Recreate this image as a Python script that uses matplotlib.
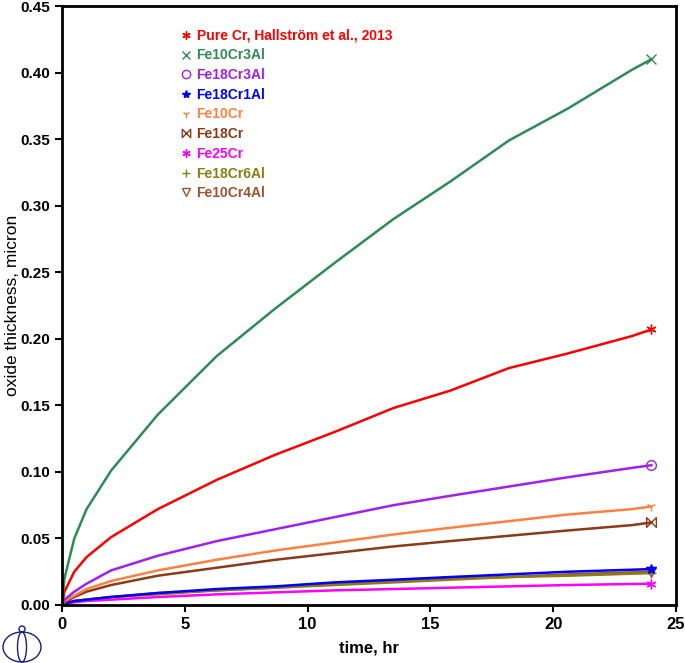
import matplotlib.pyplot as plt
from matplotlib.lines import Line2D
from matplotlib.patches import Ellipse
from matplotlib.path import Path

plt.rcParams['font.family'] = ['Liberation Sans', 'DejaVu Sans']

# time points, hr
time = [0, 0.1, 0.5, 1, 2, 3.9, 6.3, 8.7, 11.1, 13.5, 15.8, 18.2, 20.6, 23.2, 24]

pure_cr = [0, 0.010, 0.025, 0.036, 0.051, 0.072, 0.094, 0.113, 0.130, 0.148, 0.161, 0.178, 0.189, 0.202, 0.207]
fe10cr3al = [0, 0.020, 0.050, 0.072, 0.101, 0.143, 0.187, 0.223, 0.257, 0.290, 0.318, 0.349, 0.373, 0.402, 0.410]
fe18cr3al = [0, 0.004, 0.010, 0.016, 0.026, 0.037, 0.048, 0.057, 0.066, 0.075, 0.082, 0.089, 0.096, 0.103, 0.105]
fe18cr1al = [0, 0.001, 0.003, 0.004, 0.006, 0.009, 0.012, 0.014, 0.017, 0.019, 0.021, 0.023, 0.025, 0.0265, 0.027]
fe10cr = [0, 0.003, 0.007, 0.012, 0.018, 0.026, 0.034, 0.041, 0.047, 0.053, 0.058, 0.063, 0.068, 0.072, 0.074]
fe18cr = [0, 0.002, 0.006, 0.010, 0.015, 0.022, 0.028, 0.034, 0.039, 0.044, 0.048, 0.052, 0.056, 0.060, 0.062]
fe25cr = [0, 0.001, 0.002, 0.003, 0.004, 0.006, 0.008, 0.0095, 0.011, 0.012, 0.013, 0.014, 0.015, 0.0158, 0.016]
fe18cr6al = [0, 0.001, 0.003, 0.004, 0.006, 0.008, 0.011, 0.013, 0.015, 0.017, 0.019, 0.021, 0.022, 0.0235, 0.024]
fe10cr4al = [0, 0.001, 0.003, 0.004, 0.006, 0.009, 0.011, 0.013, 0.016, 0.018, 0.020, 0.021, 0.023, 0.0245, 0.025]

labels = ['Pure Cr, Hallstr\u00f6m et al., 2013', 'Fe10Cr3Al', 'Fe18Cr3Al', 'Fe18Cr1Al',
          'Fe10Cr', 'Fe18Cr', 'Fe25Cr', 'Fe18Cr6Al', 'Fe10Cr4Al']
series = [pure_cr, fe10cr3al, fe18cr3al, fe18cr1al, fe10cr, fe18cr, fe25cr, fe18cr6al, fe10cr4al]
colors = ['#ff0000', '#2e8b57', '#a020f0', '#0000ff', '#ff8040', '#8b3a1a', '#ff00ff', '#8b7d10', '#a0522d']

# open bowtie marker with vertical sides
bowtie = Path([(-1, 1), (-1, -1), (1, 1), (1, -1), (-1, 1)],
              [Path.MOVETO, Path.LINETO, Path.LINETO, Path.LINETO, Path.CLOSEPOLY])
markers = [(6, 2, 0), 'x', 'o', '*', '1', bowtie, (6, 2, 0), '+', 'v']
fills = ['none', 'none', 'none', '#0000ff', 'none', 'none', 'none', 'none', 'none']

fig = plt.figure(figsize=(6.85, 6.63), dpi=100)
ax = fig.add_axes([62 / 685, 58 / 663, 614 / 685, 599 / 663])

# draw lower curves first so the upper ones sit on top
order = [6, 8, 7, 3, 5, 4, 2, 0, 1]
for i in order:
    ax.plot(time, series[i], color=colors[i], lw=1.8, marker=markers[i],
            markevery=[len(time) - 1], ms=7, mfc=fills[i], mec=colors[i], mew=1.0)

ax.set_xlim(0, 25)
ax.set_ylim(0, 0.45)
ax.set_xticks([0, 5, 10, 15, 20, 25])
ax.set_yticks([i * 0.05 for i in range(10)])
ax.set_yticklabels(['%.2f' % (i * 0.05) for i in range(10)])
ax.tick_params(direction='out', length=5, width=1.5)
for lab in ax.get_xticklabels():
    lab.set_fontsize(12)
    lab.set_fontweight('bold')
for lab in ax.get_yticklabels():
    lab.set_fontsize(11)
    lab.set_fontweight('bold')
for sp in ax.spines.values():
    sp.set_linewidth(2)

ax.set_xlabel('time, hr', fontsize=12, fontweight='bold', labelpad=6)
ax.set_ylabel('oxide thickness, micron', fontsize=12.5, labelpad=0)

handles = [Line2D([], [], ls='none', marker=markers[i], color=colors[i], mfc=fills[i],
                  mec=colors[i], ms=6, mew=1.0) for i in range(len(labels))]
leg = ax.legend(handles, labels, loc='upper left', bbox_to_anchor=(0.175, 0.983), frameon=False,
                handlelength=0.6, handletextpad=0.45, labelspacing=0.41,
                prop={'weight': 'bold', 'size': 10})
for txt, c in zip(leg.get_texts(), colors):
    txt.set_color(c)

# logo in the lower left corner
logo = '#1c1c7c'
cx, cy = 22 / 685, 1 - 647 / 663
fig.patches.append(Ellipse((cx, cy), 38 / 685, 30 / 663, transform=fig.transFigure,
                           fill=False, ec=logo, lw=1.0))
fig.patches.append(Ellipse((cx, cy), 9 / 685, 30 / 663, transform=fig.transFigure,
                           fill=False, ec=logo, lw=1.0))
fig.patches.append(Ellipse((cx, 1 - 629 / 663), 6 / 685, 6 / 663, transform=fig.transFigure,
                           fill=False, ec=logo, lw=1.0))

fig.savefig('out.png', dpi=100)
